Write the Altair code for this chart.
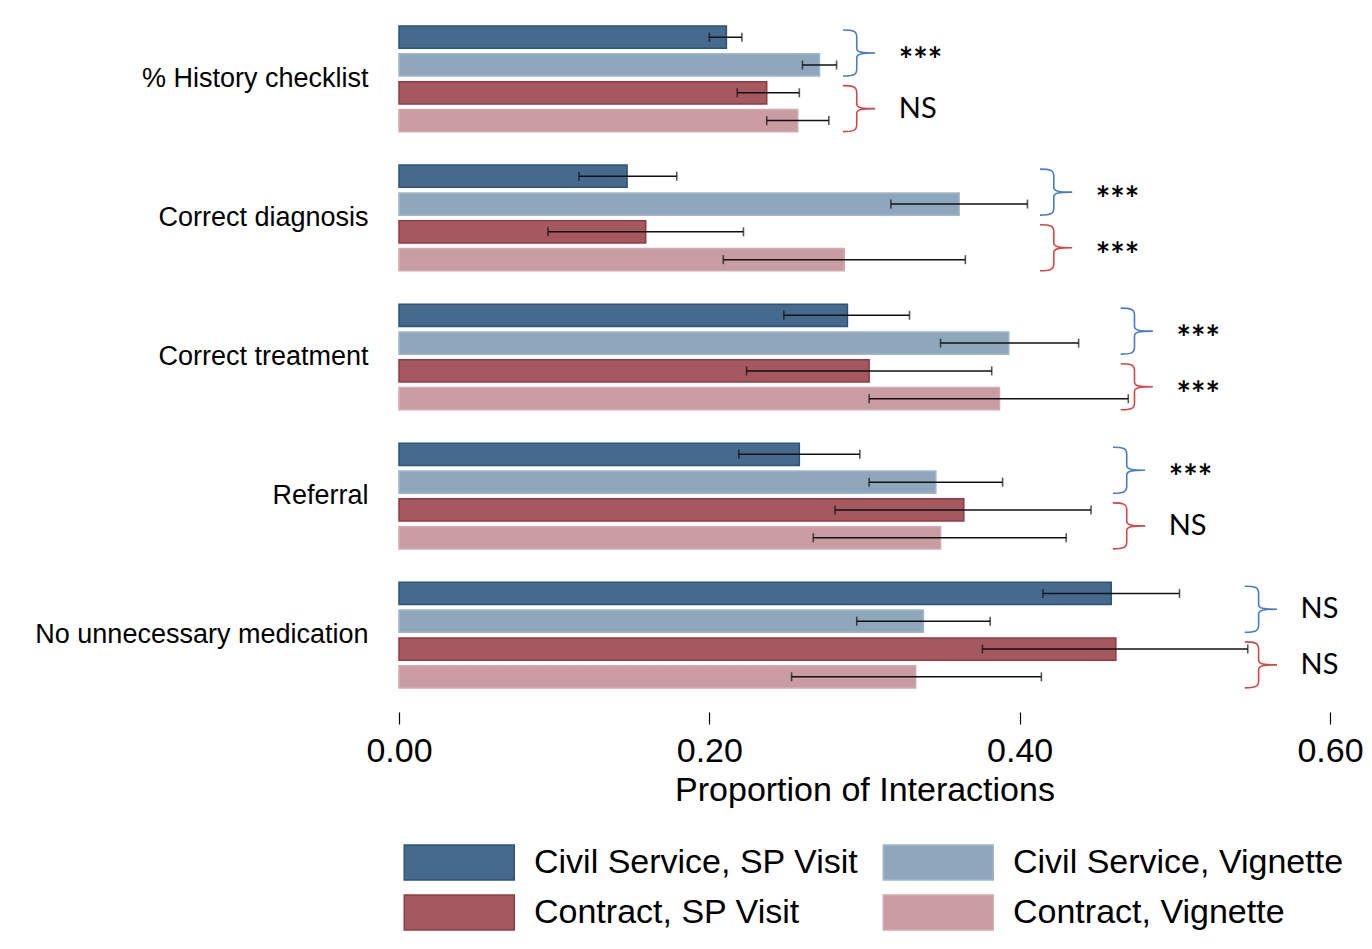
import altair as alt
import pandas as pd

# ---- data -------------------------------------------------------------
categories = [
    "% History checklist",
    "Correct diagnosis",
    "Correct treatment",
    "Referral",
    "No unnecessary medication",
]
series = [
    "Civil Service, SP Visit",
    "Civil Service, Vignette",
    "Contract, SP Visit",
    "Contract, Vignette",
]

# proportion of interactions, one value per category
cs_visit = [0.211, 0.147, 0.289, 0.258, 0.459]
cs_vignette = [0.271, 0.361, 0.393, 0.346, 0.338]
ct_visit = [0.237, 0.159, 0.303, 0.364, 0.462]
ct_vignette = [0.257, 0.287, 0.387, 0.349, 0.333]

# confidence interval bounds
cs_visit_lo = [0.200, 0.116, 0.248, 0.219, 0.415]
cs_visit_hi = [0.221, 0.179, 0.329, 0.297, 0.503]
cs_vignette_lo = [0.260, 0.317, 0.349, 0.303, 0.295]
cs_vignette_hi = [0.282, 0.405, 0.438, 0.389, 0.381]
ct_visit_lo = [0.218, 0.096, 0.224, 0.281, 0.376]
ct_visit_hi = [0.258, 0.222, 0.382, 0.446, 0.547]
ct_vignette_lo = [0.237, 0.209, 0.303, 0.267, 0.253]
ct_vignette_hi = [0.277, 0.365, 0.470, 0.430, 0.414]

# significance of SP visit vs vignette, per cadre
sig_civil = ["***", "***", "***", "***", "NS"]
sig_contract = ["NS", "***", "***", "NS", "NS"]
# x (in proportion units) where each category's brackets sit
bracket_at = [0.295, 0.422, 0.474, 0.469, 0.554]

fills = ["#466a8e", "#8ea7bc", "#a5585f", "#c99ca1"]
strokes = ["#2d5379", "#a3b6c7", "#8f3b45", "#d3aaae"]

# ---- tables -----------------------------------------------------------
means = [cs_visit, cs_vignette, ct_visit, ct_vignette]
lows = [cs_visit_lo, cs_vignette_lo, ct_visit_lo, ct_vignette_lo]
highs = [cs_visit_hi, cs_vignette_hi, ct_visit_hi, ct_vignette_hi]

rows = []
for s, m, lo, hi in zip(series, means, lows, highs):
    for c, v, l, h in zip(categories, m, lo, hi):
        rows.append({"category": c, "series": s, "value": v, "lo": l, "hi": h})
bars_df = pd.DataFrame(rows)

brk_rows = []
for c, bx, a, b in zip(categories, bracket_at, sig_civil, sig_contract):
    brk_rows.append({"category": c, "anchor": series[0], "bx": bx, "label": a, "cadre": "civil"})
    brk_rows.append({"category": c, "anchor": series[2], "bx": bx, "label": b, "cadre": "contract"})
brk_df = pd.DataFrame(brk_rows)

# ---- layout constants -------------------------------------------------
PLOT_W, PLOT_H = 931, 710
SUB_STEP = 27.73           # pixel step between bars inside a group
DROP = SUB_STEP / 2 + 2    # bracket tip sits in the gap of a bar pair
BRACE_H = 46               # brace height in px


def brace_path(drop_units):
    """Right curly brace in symbol units, shifted down by drop_units."""
    pts = [
        ("M", -0.6, -1.0),
        ("C", -0.15, -1.0, 0.0, -0.95, 0.0, -0.7),
        ("L", 0.0, -0.2),
        ("C", 0.0, -0.04, 0.22, 0.0, 0.8, 0.0),
        ("C", 0.22, 0.0, 0.0, 0.04, 0.0, 0.2),
        ("L", 0.0, 0.7),
        ("C", 0.0, 0.95, -0.15, 1.0, -0.6, 1.0),
    ]
    out = []
    for p in pts:
        cmd, coords = p[0], p[1:]
        xy = []
        for i in range(0, len(coords), 2):
            xy.append(f"{coords[i]:.3f} {coords[i + 1] + drop_units:.3f}")
        out.append(cmd + " " + " ".join(xy))
    return " ".join(out)


BRACE_SHAPE = brace_path(DROP / (BRACE_H / 2))

# legend swatch: 110 x 35 px box drawn with a 35 px symbol size
SW = 35.0
SW_OFF = (SW + 1.5) / 2
_l = -SW_OFF / (SW / 2)
_r = (110 - SW_OFF) / (SW / 2)
LEGEND_SHAPE = f"M {_l:.3f} -1 L {_r:.3f} -1 L {_r:.3f} 1 L {_l:.3f} 1 Z"

FONT = "Liberation Sans"
ANNOT_FONT = "Lato"

x_scale = alt.Scale(domain=[0, 0.6], nice=False, zero=True)
x_axis = alt.Axis(
    values=[0, 0.2, 0.4, 0.6],
    format=".2f",
    title="Proportion of Interactions",
    labelFont=FONT,
    titleFont=FONT,
    labelFontSize=34,
    titleFontSize=34,
    titleFontWeight="normal",
    labelColor="black",
    titleColor="black",
    domain=False,
    grid=False,
    tickSize=12,
    tickColor="black",
    tickWidth=1.2,
    labelPadding=10,
    titlePadding=5,
    labelFlush=False,
    labelOverlap=False,
)

y_enc = alt.Y(
    "category:N",
    sort=categories,
    scale=alt.Scale(paddingInner=0.2, paddingOuter=0.153),
    axis=alt.Axis(
        title=None,
        labelFont=FONT,
        labelFontSize=27,
        labelColor="black",
        ticks=False,
        domain=False,
        labelPadding=31,
        labelLimit=400,
    ),
)


def y_off(field):
    return alt.YOffset(
        field + ":N",
        sort=series,
        scale=alt.Scale(domain=series, paddingInner=0.2, paddingOuter=0.1),
    )


legend = alt.Legend(
    title=None,
    orient="none",
    direction="horizontal",
    legendX=5,
    legendY=842,
    columns=2,
    columnPadding=21,
    rowPadding=9,
    labelFont=FONT,
    labelFontSize=34,
    labelColor="black",
    labelLimit=600,
    labelOffset=93,
    symbolType=LEGEND_SHAPE,
    symbolSize=SW * SW,
    symbolStrokeWidth=1.5,
    padding=0,
)

bars = alt.Chart(bars_df).mark_bar(strokeWidth=1.5).encode(
    y=y_enc,
    yOffset=y_off("series"),
    x=alt.X("value:Q", scale=x_scale, axis=x_axis),
    fill=alt.Fill("series:N", sort=series, scale=alt.Scale(domain=series, range=fills), legend=legend),
    stroke=alt.Stroke("series:N", sort=series, scale=alt.Scale(domain=series, range=strokes), legend=legend),
)

ERR = "#111111"

err_line = alt.Chart(bars_df).mark_rule(color=ERR, strokeWidth=1.5).encode(
    y=y_enc,
    yOffset=y_off("series"),
    x=alt.X("lo:Q", scale=x_scale, axis=x_axis),
    x2="hi:Q",
)

err_lo = alt.Chart(bars_df).mark_tick(color=ERR, thickness=1.6, size=9).encode(
    y=y_enc,
    yOffset=y_off("series"),
    x=alt.X("lo:Q", scale=x_scale, axis=x_axis),
)

err_hi = alt.Chart(bars_df).mark_tick(color=ERR, thickness=1.6, size=9).encode(
    y=y_enc,
    yOffset=y_off("series"),
    x=alt.X("hi:Q", scale=x_scale, axis=x_axis),
)


def brackets(cadre, color):
    return alt.Chart(brk_df).transform_filter(
        alt.datum.cadre == cadre
    ).mark_point(
        shape=BRACE_SHAPE, size=BRACE_H * BRACE_H, filled=False,
        color=color, strokeWidth=1.6, opacity=1,
    ).encode(
        y=y_enc,
        yOffset=y_off("anchor"),
        x=alt.X("bx:Q", scale=x_scale, axis=x_axis),
    )


def sig_text(label, size, extra_dy, weight):
    return alt.Chart(brk_df).transform_filter(
        alt.datum.label == label
    ).mark_text(
        font=ANNOT_FONT, fontSize=size, fontWeight=weight, color="black",
        align="left", baseline="middle", dx=42, dy=DROP + extra_dy,
    ).encode(
        y=y_enc,
        yOffset=y_off("anchor"),
        x=alt.X("bx:Q", scale=x_scale, axis=x_axis),
        text="label:N",
    )


chart = alt.layer(
    bars,
    err_line,
    err_lo,
    err_hi,
    brackets("civil", "#4a7cc4"),
    brackets("contract", "#d04848"),
    sig_text("***", 34, 9, "bold"),
    sig_text("NS", 29, 0, "normal"),
).properties(
    width=PLOT_W,
    height=PLOT_H,
    autosize=alt.AutoSizeParams(type="none"),
    padding={"left": 399, "top": 2, "right": 42, "bottom": 237},
    background="white",
).configure_view(stroke=None)

chart.save("out.html", embed_options={"renderer": "svg", "actions": False})
